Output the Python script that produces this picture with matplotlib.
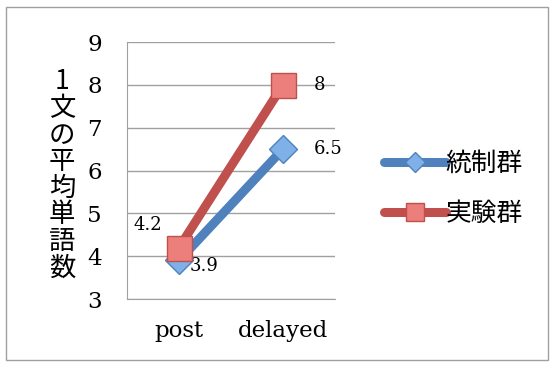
import matplotlib.pyplot as plt
from matplotlib.patches import Rectangle

categories = ['post', 'delayed']
control = [3.9, 6.5]
experiment = [4.2, 8.0]
series_names = ['統制群', '実験群']
y_ticks = [3, 4, 5, 6, 7, 8, 9]
y_label = '1文の平均単語数'

blue = '#4f81bd'
red = '#c0504d'
serif = ['DejaVu Serif']
jp = ['Noto Sans CJK JP', 'DejaVu Sans']

fig = plt.figure(figsize=(5.52, 3.67), dpi=100)
fig.patches.append(Rectangle((6 / 552, 7 / 367), 542 / 552, 353 / 367,
                             transform=fig.transFigure, fill=False,
                             edgecolor='#a0a0a0', linewidth=1))

ax = fig.add_axes([127 / 552, 1 - 299 / 367, 208 / 552, 257 / 367])
x = list(range(len(categories)))

ax.plot(x, control, color=blue, linewidth=6.5, marker='D', markersize=14,
        markerfacecolor='#7fb0e8', markeredgecolor=blue, label=series_names[0],
        solid_capstyle='round', zorder=3)
ax.plot(x, experiment, color=red, linewidth=6.5, marker='s', markersize=18,
        markerfacecolor='#ec7f7b', markeredgecolor=red, label=series_names[1],
        solid_capstyle='round', zorder=4)

ax.set_xlim(-0.5, 1.5)
ax.set_ylim(3, 9)
ax.set_yticks(y_ticks)
ax.set_xticks(x)
ax.set_xticklabels(categories, family=serif, fontsize=16.5)
ax.set_yticklabels([str(t) for t in y_ticks], family=serif, fontsize=16.5)
ax.tick_params(length=0, pad=18)
ax.tick_params(axis='x', pad=15)
ax.grid(axis='y', color='#a0a0a0', linewidth=1)
ax.set_axisbelow(True)
for s in ['top', 'right']:
    ax.spines[s].set_visible(False)
for s in ['left', 'bottom']:
    ax.spines[s].set_color('#a0a0a0')

# data labels
lab = dict(textcoords='offset points', family=serif, fontsize=13, va='center')
ax.annotate(f'{control[0]}', (x[0], control[0]), xytext=(8, -4), **lab)
ax.annotate(f'{control[1]:g}', (x[1], control[1]), xytext=(22, 0), **lab)
ax.annotate(f'{experiment[0]}', (x[0], experiment[0]), xytext=(-33, 16), **lab)
ax.annotate(f'{experiment[1]:g}', (x[1], experiment[1]), xytext=(22, 0), **lab)

fig.text(62 / 552, 1 - 175 / 367, '\n'.join(y_label), family=jp, fontsize=19,
         ha='center', va='center', linespacing=0.98)

ax.legend(loc='center left', bbox_to_anchor=(361 / 552, 1 - 189 / 367),
          bbox_transform=fig.transFigure, frameon=False,
          prop={'family': jp, 'size': 18.5}, handlelength=2.4, markerscale=0.7,
          handletextpad=0.0, labelspacing=0.95)

fig.savefig('out.png', dpi=100)
